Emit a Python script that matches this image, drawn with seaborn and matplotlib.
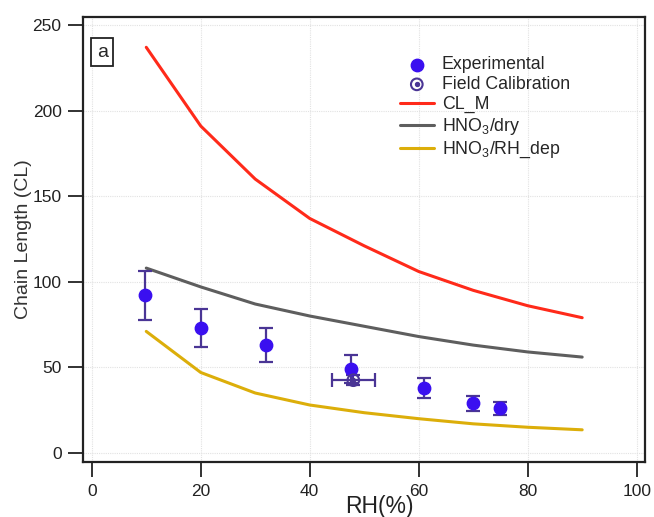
import numpy as np
import pandas as pd
import matplotlib
matplotlib.use("Agg")
import matplotlib.pyplot as plt
import seaborn as sns

# ---- data ----
rh_model = [10, 20, 30, 40, 50, 60, 70, 80, 90]
cl_m = [237, 191, 160, 137, 121, 106, 95, 86, 79]
hno3_dry = [108, 97, 87, 80, 74, 68, 63, 59, 56]
hno3_rh = [71, 47, 35, 28, 23.5, 20, 17, 15, 13.5]

rh_exp = [9.7, 20, 32, 47.5, 61, 70, 75]
cl_exp = [92, 73, 63, 49, 38, 29, 26]
cl_exp_err = [14.5, 11, 10, 8, 6, 4.5, 4]

rh_field = [48]
cl_field = [42.5]
rh_field_err = [4]
cl_field_err = [3]

x_ticks = [0, 20, 40, 60, 80, 100]
y_ticks = [0, 50, 100, 150, 200, 250]

# ---- style ----
sns.set_theme(style="ticks")
plt.rcParams['font.family'] = ['Liberation Sans', 'DejaVu Sans']
plt.rcParams['mathtext.fontset'] = 'custom'
plt.rcParams['mathtext.rm'] = 'Liberation Sans'
plt.rcParams['mathtext.it'] = 'Liberation Sans'
plt.rcParams['mathtext.default'] = 'regular'

fig = plt.figure(figsize=(6.54, 5.17), dpi=100)
ax = fig.add_axes([0.127, 0.1064, 0.859, 0.8607])

df = pd.DataFrame({"RH": rh_model, "CL_M": cl_m, "dry": hno3_dry, "rh": hno3_rh})
red, gray, gold = "#ff2a1a", "#5e5e5e", "#dcae0a"
sns.lineplot(data=df, x="RH", y="CL_M", ax=ax, color=red, lw=2.2, label="CL_M")
sns.lineplot(data=df, x="RH", y="dry", ax=ax, color=gray, lw=2.2, label="HNO$_3$/dry")
sns.lineplot(data=df, x="RH", y="rh", ax=ax, color=gold, lw=2.2, label="HNO$_3$/RH_dep")

mcol = "#3a0ff0"
ecol = "#4a3595"
ax.errorbar(rh_exp, cl_exp, yerr=cl_exp_err, fmt="none", ecolor=ecol, elinewidth=1.6,
            capsize=5, capthick=1.6, zorder=4)
exp_h = ax.scatter(rh_exp, cl_exp, s=80, color=mcol, edgecolor=mcol, zorder=5)

ax.errorbar(rh_field, cl_field, xerr=rh_field_err, yerr=cl_field_err, fmt="none",
            ecolor=ecol, elinewidth=1.6, capsize=5, capthick=1.6, zorder=4)
f1 = ax.scatter(rh_field, cl_field, s=70, facecolor="none", edgecolor=ecol, lw=1.5, zorder=6)
f2 = ax.scatter(rh_field, cl_field, s=8, color=ecol, zorder=6)

ax.set_xlim(-1.6, 101.5)
ax.set_ylim(-5.3, 254.7)
ax.set_xticks(x_ticks)
ax.set_yticks(y_ticks)
ax.tick_params(direction="out", length=10.5, width=1.3, labelsize=12.5, colors="#222222",
               pad=5)
for s in ax.spines.values():
    s.set_linewidth(1.6)
    s.set_color("#222222")
ax.grid(True, color="#e2e2e2", lw=0.8, ls=(0, (1, 1)))

ax.set_xlabel("RH(%)", fontsize=16.5, color="#222222")
ax.xaxis.set_label_coords(0.527, -0.075)
ax.set_ylabel("Chain Length (CL)", fontsize=14, color="#333333")
ax.yaxis.set_label_coords(-0.091, 0.5)

ax.text(0.034, 0.921, "a", transform=ax.transAxes, fontsize=14, ha="center", va="center",
        bbox=dict(boxstyle="square,pad=0.3", fc="white", ec="#222222", lw=1.3))

handles, labels = ax.get_legend_handles_labels()
h = [exp_h, (f1, f2)] + handles
l = ["Experimental", "Field Calibration"] + labels
ax.legend(h, l, loc="upper left", bbox_to_anchor=(0.564, 0.912), frameon=False,
          fontsize=12.8, handlelength=1.9, handletextpad=0.45, labelspacing=0.16,
          borderpad=0, borderaxespad=0)

fig.savefig("out.png", dpi=100)
